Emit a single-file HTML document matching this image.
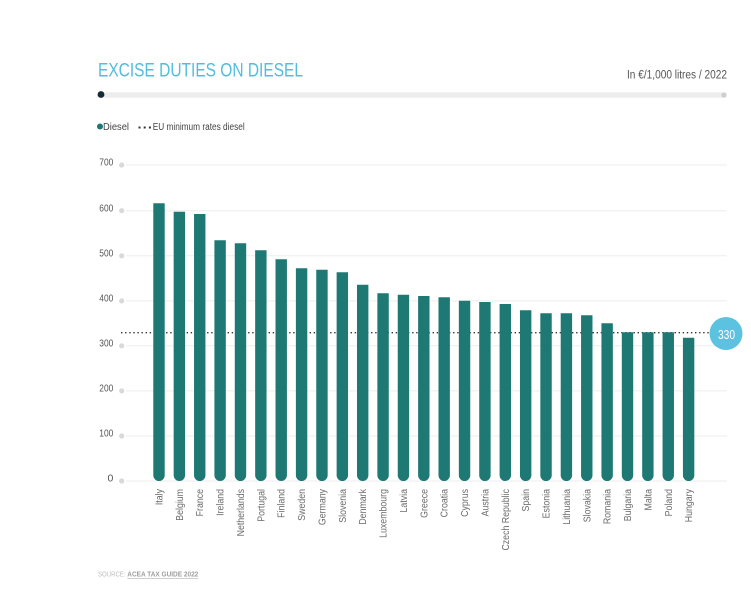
<!DOCTYPE html>
<html>
<head>
<meta charset="utf-8">
<style>
  html,body{margin:0;padding:0;background:#fff;}
  svg{display:block;}
  text{font-family:"Liberation Sans Narrow","Liberation Sans",sans-serif;}
</style>
</head>
<body>
<svg width="751" height="600" viewBox="0 0 751 600" xmlns="http://www.w3.org/2000/svg">
  <!-- Title -->
  <text x="98" y="76.7" font-size="19" fill="#52bddc" textLength="205" lengthAdjust="spacingAndGlyphs">EXCISE DUTIES ON DIESEL</text>
  <text x="727" y="78.5" font-size="11.5" fill="#555" text-anchor="end" textLength="100" lengthAdjust="spacingAndGlyphs">In €/1,000 litres / 2022</text>

  <!-- progress bar -->
  <line x1="100" y1="95" x2="724" y2="95" stroke="#ededed" stroke-width="5.5" stroke-linecap="round"/>
  <circle cx="724" cy="95" r="2.6" fill="#cfcfcf"/>
  <circle cx="101" cy="94.5" r="3.4" fill="#162b38"/>

  <!-- legend -->
  <circle cx="100" cy="126.5" r="3" fill="#1e7873"/>
  <text x="103" y="130" font-size="10" fill="#444" textLength="26" lengthAdjust="spacingAndGlyphs">Diesel</text>
  <line x1="138.5" y1="127.5" x2="151" y2="127.5" stroke="#333" stroke-width="2" stroke-dasharray="2 3.2"/>
  <text x="152.7" y="130" font-size="10" fill="#444" textLength="92" lengthAdjust="spacingAndGlyphs">EU minimum rates diesel</text>

  <!-- gridlines -->
  <g stroke="#eeeeee" stroke-width="1">
    <line x1="126" y1="165" x2="727" y2="165"/>
    <line x1="126" y1="210.7" x2="727" y2="210.7"/>
    <line x1="126" y1="255.8" x2="727" y2="255.8"/>
    <line x1="126" y1="300.9" x2="727" y2="300.9"/>
    <line x1="126" y1="345.8" x2="727" y2="345.8"/>
    <line x1="126" y1="390.9" x2="727" y2="390.9"/>
    <line x1="126" y1="436" x2="727" y2="436"/>
    <line x1="126" y1="481" x2="727" y2="481"/>
  </g>
  <g fill="#d9d9d9">
    <circle cx="121.7" cy="165" r="2.6"/>
    <circle cx="121.7" cy="210.7" r="2.6"/>
    <circle cx="121.7" cy="255.8" r="2.6"/>
    <circle cx="121.7" cy="300.9" r="2.6"/>
    <circle cx="121.7" cy="345.8" r="2.6"/>
    <circle cx="121.7" cy="390.9" r="2.6"/>
    <circle cx="121.7" cy="436" r="2.6"/>
    <circle cx="121.7" cy="481" r="2.6"/>
  </g>
  <g font-size="10.5" fill="#555" text-anchor="end">
    <text x="113.3" y="165.7" textLength="14" lengthAdjust="spacingAndGlyphs">700</text>
    <text x="113.3" y="211.3" textLength="14" lengthAdjust="spacingAndGlyphs">600</text>
    <text x="113.3" y="256.4" textLength="14" lengthAdjust="spacingAndGlyphs">500</text>
    <text x="113.3" y="301.5" textLength="14" lengthAdjust="spacingAndGlyphs">400</text>
    <text x="113.3" y="346.4" textLength="14" lengthAdjust="spacingAndGlyphs">300</text>
    <text x="113.3" y="391.5" textLength="14" lengthAdjust="spacingAndGlyphs">200</text>
    <text x="113.3" y="436.6" textLength="14" lengthAdjust="spacingAndGlyphs">100</text>
    <text x="113.3" y="481.6">0</text>
  </g>

  <!-- EU minimum dotted line -->
  <line x1="121" y1="332.7" x2="710" y2="332.7" stroke="#333" stroke-width="1.3" stroke-dasharray="1.4 2.7"/>

  <!-- bars -->
  <g fill="#1e7873">
    <path d="M153.3 203.3h11.4V475.3a5.7 5.7 0 0 1 -11.4 0Z"/>
    <path d="M173.67 211.7h11.4V475.3a5.7 5.7 0 0 1 -11.4 0Z"/>
    <path d="M194.04 214h11.4V475.3a5.7 5.7 0 0 1 -11.4 0Z"/>
    <path d="M214.41 240.3h11.4V475.3a5.7 5.7 0 0 1 -11.4 0Z"/>
    <path d="M234.78 243.3h11.4V475.3a5.7 5.7 0 0 1 -11.4 0Z"/>
    <path d="M255.15 250.3h11.4V475.3a5.7 5.7 0 0 1 -11.4 0Z"/>
    <path d="M275.52 259.3h11.4V475.3a5.7 5.7 0 0 1 -11.4 0Z"/>
    <path d="M295.89 268.3h11.4V475.3a5.7 5.7 0 0 1 -11.4 0Z"/>
    <path d="M316.26 269.7h11.4V475.3a5.7 5.7 0 0 1 -11.4 0Z"/>
    <path d="M336.63 272.3h11.4V475.3a5.7 5.7 0 0 1 -11.4 0Z"/>
    <path d="M357 284.7h11.4V475.3a5.7 5.7 0 0 1 -11.4 0Z"/>
    <path d="M377.37 293.3h11.4V475.3a5.7 5.7 0 0 1 -11.4 0Z"/>
    <path d="M397.74 294.7h11.4V475.3a5.7 5.7 0 0 1 -11.4 0Z"/>
    <path d="M418.11 296h11.4V475.3a5.7 5.7 0 0 1 -11.4 0Z"/>
    <path d="M438.48 297.3h11.4V475.3a5.7 5.7 0 0 1 -11.4 0Z"/>
    <path d="M458.85 300.7h11.4V475.3a5.7 5.7 0 0 1 -11.4 0Z"/>
    <path d="M479.22 302h11.4V475.3a5.7 5.7 0 0 1 -11.4 0Z"/>
    <path d="M499.59 304h11.4V475.3a5.7 5.7 0 0 1 -11.4 0Z"/>
    <path d="M519.96 310.3h11.4V475.3a5.7 5.7 0 0 1 -11.4 0Z"/>
    <path d="M540.33 313.3h11.4V475.3a5.7 5.7 0 0 1 -11.4 0Z"/>
    <path d="M560.7 313.3h11.4V475.3a5.7 5.7 0 0 1 -11.4 0Z"/>
    <path d="M581.07 315.3h11.4V475.3a5.7 5.7 0 0 1 -11.4 0Z"/>
    <path d="M601.44 323.3h11.4V475.3a5.7 5.7 0 0 1 -11.4 0Z"/>
    <path d="M621.81 332.3h11.4V475.3a5.7 5.7 0 0 1 -11.4 0Z"/>
    <path d="M642.18 332.3h11.4V475.3a5.7 5.7 0 0 1 -11.4 0Z"/>
    <path d="M662.55 332.3h11.4V475.3a5.7 5.7 0 0 1 -11.4 0Z"/>
    <path d="M682.92 337.7h11.4V475.3a5.7 5.7 0 0 1 -11.4 0Z"/>
  </g>

  <!-- x labels -->
  <g font-size="10" fill="#6a6a6a" text-anchor="end">
    <text transform="translate(162.5,489) rotate(-90) scale(0.88,1)">Italy</text>
    <text transform="translate(182.87,489) rotate(-90) scale(0.88,1)">Belgium</text>
    <text transform="translate(203.24,489) rotate(-90) scale(0.88,1)">France</text>
    <text transform="translate(223.61,489) rotate(-90) scale(0.88,1)">Ireland</text>
    <text transform="translate(243.98,489) rotate(-90) scale(0.88,1)">Netherlands</text>
    <text transform="translate(264.35,489) rotate(-90) scale(0.88,1)">Portugal</text>
    <text transform="translate(284.72,489) rotate(-90) scale(0.88,1)">Finland</text>
    <text transform="translate(305.09,489) rotate(-90) scale(0.88,1)">Sweden</text>
    <text transform="translate(325.46,489) rotate(-90) scale(0.88,1)">Germany</text>
    <text transform="translate(345.83,489) rotate(-90) scale(0.88,1)">Slovenia</text>
    <text transform="translate(366.2,489) rotate(-90) scale(0.88,1)">Denmark</text>
    <text transform="translate(386.57,489) rotate(-90) scale(0.88,1)">Luxembourg</text>
    <text transform="translate(406.94,489) rotate(-90) scale(0.88,1)">Latvia</text>
    <text transform="translate(427.31,489) rotate(-90) scale(0.88,1)">Greece</text>
    <text transform="translate(447.68,489) rotate(-90) scale(0.88,1)">Croatia</text>
    <text transform="translate(468.05,489) rotate(-90) scale(0.88,1)">Cyprus</text>
    <text transform="translate(488.42,489) rotate(-90) scale(0.88,1)">Austria</text>
    <text transform="translate(508.79,489) rotate(-90) scale(0.88,1)">Czech Republic</text>
    <text transform="translate(529.16,489) rotate(-90) scale(0.88,1)">Spain</text>
    <text transform="translate(549.53,489) rotate(-90) scale(0.88,1)">Estonia</text>
    <text transform="translate(569.9,489) rotate(-90) scale(0.88,1)">Lithuania</text>
    <text transform="translate(590.27,489) rotate(-90) scale(0.88,1)">Slovakia</text>
    <text transform="translate(610.64,489) rotate(-90) scale(0.88,1)">Romania</text>
    <text transform="translate(631.01,489) rotate(-90) scale(0.88,1)">Bulgaria</text>
    <text transform="translate(651.38,489) rotate(-90) scale(0.88,1)">Malta</text>
    <text transform="translate(671.75,489) rotate(-90) scale(0.88,1)">Poland</text>
    <text transform="translate(692.12,489) rotate(-90) scale(0.88,1)">Hungary</text>
  </g>

  <!-- 330 badge -->
  <circle cx="726" cy="333.5" r="16.5" fill="#5bc2e0"/>
  <text x="726.5" y="338.8" font-size="13" fill="#fff" text-anchor="middle" textLength="17" lengthAdjust="spacingAndGlyphs">330</text>

  <!-- source -->
  <text x="98" y="576.5" font-size="7.5" fill="#bdbdbd" textLength="27.5" lengthAdjust="spacingAndGlyphs">SOURCE:</text>
  <text x="127.3" y="576.5" font-size="7.5" font-weight="bold" fill="#a0a0a0" textLength="71" lengthAdjust="spacingAndGlyphs">ACEA TAX GUIDE 2022</text>
  <line x1="127.3" y1="578.5" x2="198.3" y2="578.5" stroke="#cfcfcf" stroke-width="1"/>
</svg>
</body>
</html>
